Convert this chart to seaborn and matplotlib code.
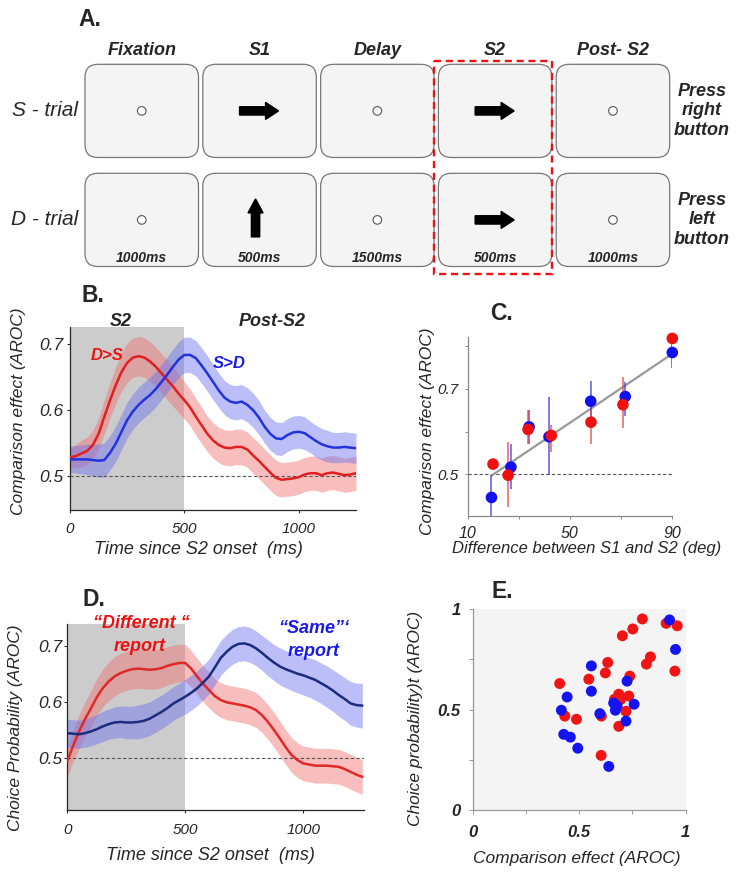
import numpy as np
import pandas as pd
import matplotlib
matplotlib.use("Agg")
import matplotlib.pyplot as plt
import seaborn as sns
from matplotlib.patches import FancyBboxPatch, Rectangle, Circle

# ---------------- data ----------------
epochs = ["Fixation", "S1", "Delay", "S2", "Post- S2"]
durations = ["1000ms", "500ms", "1500ms", "500ms", "1000ms"]
trial_labels = ["S - trial", "D - trial"]
stim_s_trial = ["dot", "right", "dot", "right", "dot"]
stim_d_trial = ["dot", "up", "dot", "right", "dot"]
responses = ["Press\nright\nbutton", "Press\nleft\nbutton"]

time_ms = [0, 25, 50, 75, 100, 125, 150, 175, 200, 225, 250, 275, 300, 325, 350, 375, 400,
           425, 450, 475, 500, 525, 550, 575, 600, 625, 650, 675, 700, 725, 750, 775, 800,
           825, 850, 875, 900, 925, 950, 975, 1000, 1025, 1050, 1075, 1100, 1125, 1150,
           1175, 1200, 1225, 1250]

# Panel B: comparison effect (D>S red, S>D blue)
b_ds = [0.528, 0.530, 0.534, 0.538, 0.547, 0.564, 0.590, 0.615, 0.638, 0.658, 0.672, 0.680, 0.682,
        0.680, 0.674, 0.666, 0.656, 0.646, 0.636, 0.625, 0.615, 0.604, 0.590, 0.577, 0.564,
        0.554, 0.547, 0.543, 0.542, 0.544, 0.544, 0.540, 0.531, 0.523, 0.514, 0.505, 0.497,
        0.494, 0.495, 0.496, 0.498, 0.502, 0.504, 0.504, 0.501, 0.504, 0.505, 0.503, 0.501,
        0.502, 0.504]
b_ds_err = [0.016, 0.018, 0.020, 0.021, 0.022, 0.024, 0.026, 0.027, 0.028, 0.029, 0.030, 0.030,
            0.030, 0.030, 0.030, 0.030, 0.030, 0.030, 0.030, 0.029, 0.028, 0.028, 0.028, 0.028,
            0.027,
            0.027, 0.027, 0.027, 0.027, 0.027, 0.027, 0.027, 0.027, 0.027, 0.027, 0.027, 0.027,
            0.026, 0.026, 0.026, 0.026, 0.026, 0.026, 0.026, 0.026, 0.026, 0.026, 0.026, 0.026,
            0.026, 0.026]
b_sd = [0.525, 0.525, 0.525, 0.525, 0.524, 0.523, 0.524, 0.535, 0.549, 0.567, 0.585, 0.598, 0.608,
        0.616, 0.623, 0.632, 0.643, 0.654, 0.666, 0.677, 0.684, 0.684, 0.679, 0.668, 0.656,
        0.643, 0.630, 0.619, 0.613, 0.611, 0.613, 0.608, 0.600, 0.589, 0.575, 0.564, 0.557,
        0.556, 0.562, 0.566, 0.567, 0.565, 0.559, 0.553, 0.548, 0.545, 0.543, 0.543, 0.544,
        0.543, 0.542]
b_sd_err = [0.020, 0.021, 0.022, 0.023, 0.024, 0.025, 0.026, 0.026, 0.027,
            0.027, 0.027, 0.027, 0.027, 0.027, 0.027, 0.027, 0.027, 0.027, 0.027, 0.027, 0.027,
            0.027, 0.027, 0.027, 0.027, 0.027,
            0.026, 0.026, 0.026, 0.026, 0.026, 0.026, 0.026, 0.026,
            0.025, 0.025, 0.025, 0.025, 0.025, 0.025, 0.025, 0.025,
            0.024, 0.024, 0.024, 0.024,
            0.023, 0.023, 0.023, 0.023, 0.023]

# Panel C: comparison effect vs. angle difference
c_deg_red = [19.9, 25.8, 33.6, 42.7, 58.2, 70.7, 90.0]
c_red = [0.524, 0.498, 0.605, 0.591, 0.622, 0.663, 0.818]
c_red_lo = [0.515, 0.424, 0.571, 0.553, 0.572, 0.608, 0.799]
c_red_hi = [0.533, 0.576, 0.650, 0.615, 0.650, 0.728, 0.837]
c_deg_blue = [19.3, 26.9, 34.0, 41.8, 58.1, 71.6, 90.0]
c_blue = [0.446, 0.517, 0.611, 0.588, 0.671, 0.682, 0.785]
c_blue_lo = [0.390, 0.465, 0.571, 0.498, 0.627, 0.636, 0.748]
c_blue_hi = [0.498, 0.571, 0.650, 0.682, 0.719, 0.717, 0.806]

# Panel D: choice probability ("Different" red, "Same" navy)
d_diff = [0.495, 0.523, 0.548, 0.570, 0.589, 0.609, 0.625, 0.637, 0.646, 0.652, 0.656, 0.659,
          0.660, 0.659, 0.658, 0.659, 0.661, 0.665, 0.668, 0.670, 0.670, 0.660, 0.646, 0.633,
          0.622, 0.611, 0.604, 0.600, 0.598, 0.596, 0.594, 0.591, 0.586, 0.577, 0.565, 0.551,
          0.536, 0.520, 0.506, 0.497, 0.491, 0.489, 0.487, 0.487, 0.487, 0.486, 0.485, 0.481,
          0.476, 0.471, 0.467]
d_diff_err = [0.027, 0.028, 0.030, 0.031, 0.032, 0.033, 0.034, 0.034, 0.035,
              0.035, 0.035, 0.035, 0.035, 0.035, 0.035, 0.035, 0.035,
              0.034, 0.034, 0.033, 0.033,
              0.032, 0.032, 0.032, 0.032,
              0.031, 0.031, 0.031, 0.031, 0.031, 0.031, 0.031, 0.031, 0.031, 0.031, 0.031,
              0.031, 0.031, 0.031, 0.031, 0.031, 0.031, 0.031, 0.031, 0.031, 0.031, 0.031,
              0.031, 0.031, 0.031, 0.031]
d_same = [0.545, 0.544, 0.543, 0.545, 0.548, 0.552, 0.557, 0.561, 0.564, 0.565, 0.564, 0.564,
          0.565, 0.567, 0.571, 0.577, 0.583, 0.590, 0.598, 0.604, 0.610, 0.617, 0.625, 0.635,
          0.646, 0.662, 0.679, 0.690, 0.699, 0.704, 0.705, 0.702, 0.696, 0.688, 0.679, 0.671,
          0.664, 0.659, 0.655, 0.651, 0.648, 0.644, 0.640, 0.634, 0.628, 0.621, 0.613, 0.606,
          0.598, 0.595, 0.594]
d_same_err = [0.025, 0.025, 0.025, 0.025, 0.026, 0.026, 0.027, 0.027, 0.028, 0.028, 0.029, 0.029,
              0.030, 0.030, 0.030, 0.030, 0.030, 0.030, 0.030, 0.030,
              0.031, 0.031, 0.031, 0.031, 0.031, 0.031, 0.031, 0.031, 0.031, 0.031, 0.031,
              0.031, 0.031, 0.031,
              0.032, 0.032, 0.033, 0.033, 0.034, 0.034, 0.035, 0.035, 0.036, 0.036, 0.037,
              0.037, 0.038, 0.038, 0.039, 0.039, 0.040]

# Panel E: choice probability vs comparison effect, per neuron
e_red_x = [0.408, 0.432, 0.487, 0.545, 0.634, 0.623, 0.604, 0.603, 0.703, 0.752, 0.797, 0.909, 0.961,
           0.816, 0.835, 0.950, 0.738, 0.686, 0.666, 0.733, 0.720, 0.686, 0.694]
e_red_y = [0.630, 0.468, 0.452, 0.652, 0.735, 0.683, 0.468, 0.272, 0.868, 0.902, 0.952, 0.930, 0.918,
           0.727, 0.763, 0.692, 0.667, 0.577, 0.552, 0.568, 0.492, 0.417, 0.550]
e_blue_x = [0.925, 0.953, 0.557, 0.557, 0.443, 0.416, 0.427, 0.458, 0.493, 0.639, 0.597, 0.662,
            0.678, 0.670, 0.725, 0.758, 0.720]
e_blue_y = [0.947, 0.800, 0.718, 0.592, 0.563, 0.497, 0.377, 0.363, 0.308, 0.217, 0.480, 0.533,
            0.517, 0.497, 0.642, 0.527, 0.443]

# ---------------- style ----------------
sns.set_theme(style="ticks")
plt.rcParams["font.family"] = ["Liberation Sans", "DejaVu Sans"]
plt.rcParams["font.style"] = "italic"
plt.rcParams["axes.linewidth"] = 0.9

RED = "#ee1111"
BLUE = "#1a1aee"
NAVY = "#1c2c7c"
W, H = 740, 874

fig = plt.figure(figsize=(W / 100, H / 100), dpi=100)


def rect(l, t, r, b):
    return [l / W, 1 - b / H, (r - l) / W, (b - t) / H]


def place_labels(ax, box, xl, yl, xpos, ypos, fs_x, fs_y, **kw):
    l, t, r, b = box
    ax.set_xlabel(xl, fontsize=fs_x, **kw)
    ax.set_ylabel(yl, fontsize=fs_y, **kw)
    ax.xaxis.set_label_coords((xpos[0] - l) / (r - l), (b - xpos[1]) / (b - t))
    ax.yaxis.set_label_coords((ypos[0] - l) / (r - l), (b - ypos[1]) / (b - t))
    ax.xaxis.label.set_va("center")
    ax.yaxis.label.set_va("center")


# ---------------- Panel A (schematic) ----------------
axa = fig.add_axes([0, 0, 1, 1])
axa.set_xlim(0, W)
axa.set_ylim(H, 0)
axa.axis("off")

box_left0, box_step, box_w = 85.0, 117.8, 113.5
row_tops, box_h = [64.3, 173.3], 93.2
rows = [stim_s_trial, stim_d_trial]
for ci, name in enumerate(epochs):
    cx = box_left0 + ci * box_step + box_w / 2
    axa.text(cx, 50.7, name, ha="center", va="center", fontsize=13, fontweight="bold")
    for ri, stims in enumerate(rows):
        top = row_tops[ri]
        cy = top + box_h / 2
        axa.add_patch(FancyBboxPatch((box_left0 + ci * box_step, top), box_w, box_h,
                                     boxstyle="round,pad=0,rounding_size=13",
                                     fc="#f4f4f4", ec="#777777", lw=0.9))
        s = stims[ci]
        if s == "dot":
            axa.add_patch(Circle((cx, cy), 4.3, fc="white", ec="#555555", lw=0.8))
        elif s == "right":
            axa.arrow(cx - 20, cy, 39, 0, width=8.3, head_width=17, head_length=13,
                      length_includes_head=True, fc="black", ec="black")
        elif s == "up":
            axa.arrow(cx - 4, cy + 17, 0, -38, width=8.3, head_width=15, head_length=14,
                      length_includes_head=True, fc="black", ec="black")
    axa.text(cx, 257.5, durations[ci], ha="center", va="center", fontsize=10, fontweight="bold")

for ri, lab in enumerate(trial_labels):
    cy = row_tops[ri] + box_h / 2
    axa.text(45, cy, lab, ha="center", va="center", fontsize=15)
    axa.text(702, cy, responses[ri], ha="center", va="center", fontsize=13,
             fontweight="bold", linespacing=1.2, multialignment="center")

axa.add_patch(Rectangle((434.3, 60.7), 117.4, 213.3, fill=False, ec=RED, lw=1.7,
                        ls=(0, (3, 2))))

# panel letters
for letter, (px, py) in {"A.": (90, 20), "B.": (93, 296), "C.": (502, 313),
                         "D.": (94, 600), "E.": (502, 592)}.items():
    fig.text(px / W, 1 - py / H, letter, ha="center", va="center", fontsize=16.5,
             fontweight="bold", fontstyle="normal")


def time_panel(box, ylim, xlim, s1, e1, s2, e2, band1, band2, line1, line2):
    ax = fig.add_axes(rect(*box))
    ax.axvspan(0, 500, color="#cccccc", lw=0, zorder=0)
    t = np.array(time_ms)
    for vals, err, bc in ((s1, e1, band1), (s2, e2, band2)):
        v, e = np.array(vals), np.array(err)
        ax.fill_between(t, v - e, v + e, color=bc, alpha=0.45, lw=0, zorder=1)
    sns.lineplot(x=time_ms, y=s1, ax=ax, color=line1, lw=1.8, zorder=3)
    sns.lineplot(x=time_ms, y=s2, ax=ax, color=line2, lw=1.8, zorder=3)
    ax.axhline(0.5, color="#555555", lw=0.8, ls=(0, (3, 2)), zorder=2)
    ax.set_xlim(*xlim)
    ax.set_ylim(*ylim)
    ax.set_facecolor("white")
    sns.despine(ax=ax)
    ax.set_xticks([0, 500, 1000])
    ax.set_yticks([0.5, 0.6, 0.7])
    ax.set_yticklabels(["0.5", "0.6", "0.7"], fontsize=12.5)
    ax.set_xticklabels(["0", "500", "1000"], fontsize=11)
    return ax


# ---------------- Panel B ----------------
boxB = (70, 327.3, 356, 510)
axb = time_panel(boxB, (0.448, 0.726), (0, 1250), b_ds, b_ds_err, b_sd, b_sd_err,
                 "#f07070", "#6a70ee", "#e02020", "#2233dd")
axb.tick_params(axis="y", length=2.5, width=0.8, pad=2)
axb.tick_params(axis="x", length=2.5, width=0.8, pad=6)
place_labels(axb, boxB, "Time since S2 onset  (ms)", "Comparison effect (AROC)",
             (198, 549), (18.5, 411), 13, 12.5)
axb.text(120.5, 321, "S2", transform=axa.transData, ha="center", va="center",
         fontsize=13, fontweight="bold")
axb.text(272, 321, "Post-S2", transform=axa.transData, ha="center", va="center",
         fontsize=13, fontweight="bold")
axb.text(106.7, 355, "D>S", transform=axa.transData, ha="center", va="center",
         fontsize=12, fontweight="bold", color=RED)
axb.text(229, 363.3, "S>D", transform=axa.transData, ha="center", va="center",
         fontsize=12, fontweight="bold", color=BLUE)

# ---------------- Panel D ----------------
boxD = (67.3, 624.3, 364, 810)
axd = time_panel(boxD, (0.408, 0.739), (0, 1257), d_diff, d_diff_err, d_same, d_same_err,
                 "#f07070", "#6a70ee", "#e02828", NAVY)
axd.tick_params(axis="y", length=2.5, width=0.8, pad=1)
axd.tick_params(axis="x", length=2.5, width=0.8, pad=7)
place_labels(axd, boxD, "Time since S2 onset  (ms)", "Choice Probability (AROC)",
             (210, 856), (15.2, 728), 13, 12.5)
for txt, (px, py), col in (("\u201cDifferent \u201c", (141, 623.5), RED), ("report", (140, 646.7), RED),
                           ("\u201cSame\u201d\u2018", (314, 628.3), BLUE), ("report", (313.3, 651.7), BLUE)):
    axd.text(px, py, txt, transform=axa.transData, ha="center", va="center",
             fontsize=13, fontweight="bold", color=col)

# ---------------- Panel C ----------------
boxC = (467.7, 336.7, 672.3, 516)
axc = fig.add_axes(rect(*boxC))
axc.set_facecolor("white")
axc.axhline(0.5, color="#555555", lw=0.8, ls=(0, (3, 2)), zorder=1)
all_x = c_deg_red + c_deg_blue
all_y = c_red + c_blue
sns.regplot(x=all_x, y=all_y, ax=axc, scatter=False, ci=None, truncate=True,
            color="#999999", line_kws={"lw": 1.6, "zorder": 2})
axc.vlines(c_deg_blue, c_blue_lo, c_blue_hi, color="#3a3aee", lw=1.1, alpha=0.85, zorder=3)
axc.vlines(c_deg_red, c_red_lo, c_red_hi, color="#ee4444", lw=1.1, alpha=0.85, zorder=3)
sns.scatterplot(x=c_deg_blue, y=c_blue, ax=axc, color="#1010f0", s=70, edgecolor="none",
                zorder=4, clip_on=False)
sns.scatterplot(x=c_deg_red, y=c_red, ax=axc, color="#f01010", s=70, edgecolor="none",
                zorder=5, clip_on=False)
axc.set_xlim(10, 90)
axc.set_ylim(0.4026, 0.822)
sns.despine(ax=axc)
for sp in ("left", "bottom"):
    axc.spines[sp].set_color("#888888")
axc.set_xticks([10, 30, 50, 70, 90])
axc.set_xticklabels(["10", "", "50", "", "90"], fontsize=11.5)
axc.set_yticks([0.5, 0.6, 0.7, 0.8])
axc.set_yticklabels(["0.5", "", "0.7", ""], fontsize=11)
axc.tick_params(axis="both", length=2.5, width=0.7, color="#888888")
axc.tick_params(axis="y", pad=4)
axc.tick_params(axis="x", pad=5)
place_labels(axc, boxC, "Difference between S1 and S2 (deg)", "Comparison effect (AROC)",
             (587, 549), (427.5, 431), 12, 12.5)

# ---------------- Panel E ----------------
boxE = (473, 609.3, 685.5, 810)
axe = fig.add_axes(rect(*boxE))
axe.set_facecolor("#f4f4f4")
sns.scatterplot(x=e_red_x, y=e_red_y, ax=axe, color="#f01414", s=62, edgecolor="none", zorder=3)
sns.scatterplot(x=e_blue_x, y=e_blue_y, ax=axe, color="#1414f0", s=62, edgecolor="none", zorder=4)
axe.set_xlim(0, 1)
axe.set_ylim(0, 1)
sns.despine(ax=axe)
for sp in ("left", "bottom"):
    axe.spines[sp].set_color("#999999")
axe.set_xticks([0, 0.25, 0.5, 0.75, 1])
axe.set_xticklabels(["0", "", "0.5", "", "1"], fontsize=12, fontweight="bold")
axe.set_yticks([0, 0.25, 0.5, 0.75, 1])
axe.set_yticklabels(["0", "", "0.5", "", "1"], fontsize=12, fontweight="bold")
axe.tick_params(axis="both", length=3, width=0.7, color="#999999")
axe.tick_params(axis="y", pad=6)
axe.tick_params(axis="x", pad=8)
place_labels(axe, boxE, "Comparison effect (AROC)", "Choice probability)t (AROC)",
             (577, 858), (415.5, 718), 12.5, 12.5)

fig.savefig("out.png", dpi=100)
